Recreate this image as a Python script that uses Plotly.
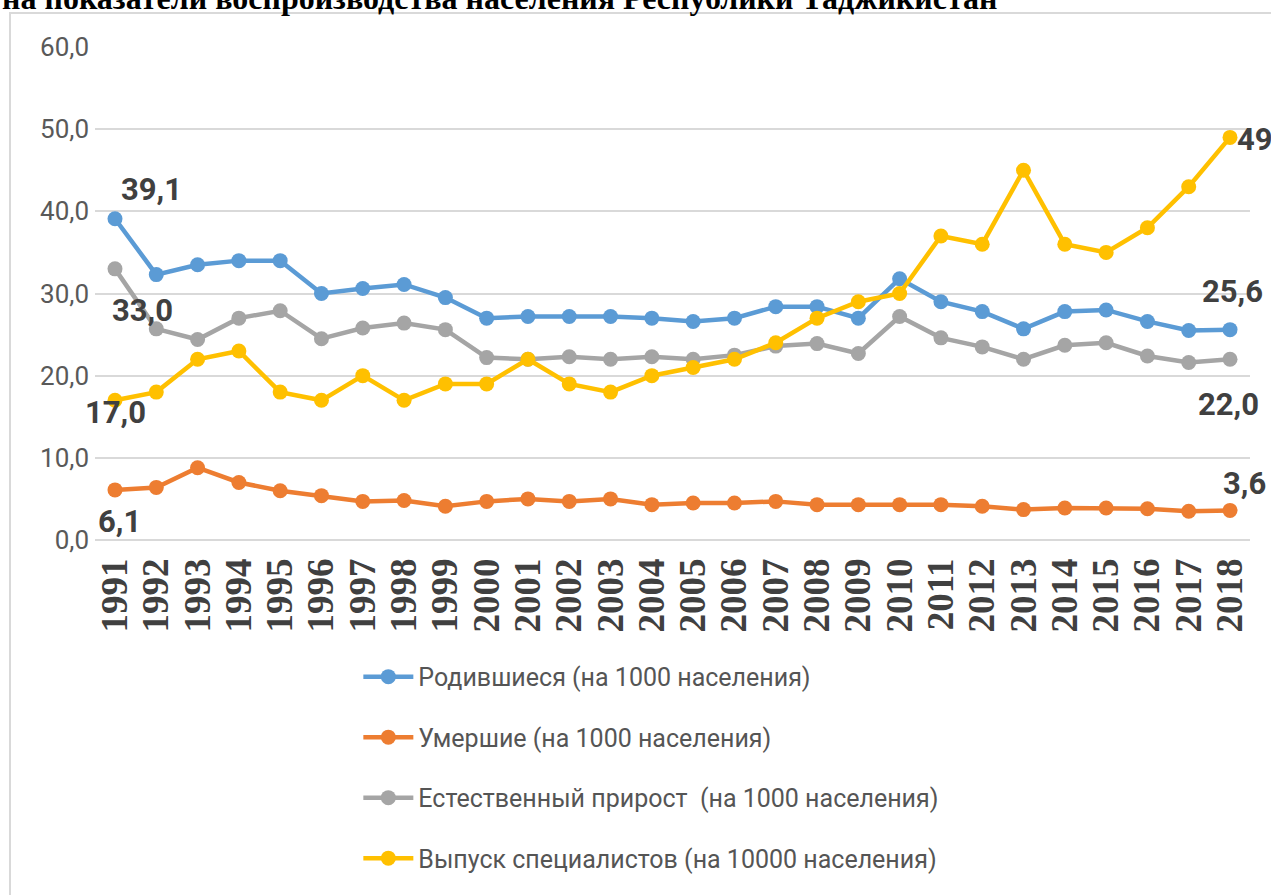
import plotly.graph_objects as go

years = list(range(1991, 2019))
births = [39.1, 32.3, 33.5, 34.0, 34.0, 30.0, 30.6, 31.1, 29.5, 27.0, 27.2, 27.2, 27.2, 27.0,
          26.6, 27.0, 28.4, 28.4, 27.0, 31.8, 29.0, 27.8, 25.7, 27.8, 28.0, 26.6, 25.5, 25.6]
deaths = [6.1, 6.4, 8.8, 7.0, 6.0, 5.4, 4.7, 4.8, 4.1, 4.7, 5.0, 4.7, 5.0, 4.3,
          4.5, 4.5, 4.7, 4.3, 4.3, 4.3, 4.3, 4.1, 3.7, 3.9, 3.9, 3.8, 3.5, 3.6]
growth = [33.0, 25.7, 24.4, 27.0, 27.9, 24.5, 25.8, 26.4, 25.6, 22.2, 22.0, 22.3, 22.0, 22.3,
          22.0, 22.5, 23.6, 23.9, 22.7, 27.2, 24.6, 23.5, 22.0, 23.7, 24.0, 22.4, 21.6, 22.0]
graduates = [17, 18, 22, 23, 18, 17, 20, 17, 19, 19, 22, 19, 18, 20,
             21, 22, 24, 27, 29, 30, 37, 36, 45, 36, 35, 38, 43, 49]

names = ["Родившиеся (на 1000 населения)",
         "Умершие (на 1000 населения)",
         "Естественный прирост  (на 1000 населения)",
         "Выпуск специалистов (на 10000 населения)"]
colors = ["#5B9BD5", "#ED7D31", "#A5A5A5", "#FFC000"]
series = [births, deaths, growth, graduates]

title_text = "на показатели воспроизводства населения Республики Таджикистан"

SANS = "Roboto, Open Sans, sans-serif"

fig = go.Figure()
for i, (nm, col, vals) in enumerate(zip(names, colors, series)):
    fig.add_trace(go.Scatter(
        x=years, y=vals, name=nm, mode="lines+markers",
        line=dict(color=col, width=4.5),
        marker=dict(color=col, size=15),
        legendgroup=str(i),
    ))

def fmt(v):
    return f"{v:.1f}".replace(".", ",")

# data labels: (series, index, xshift, yshift, text)
labels = [
    (births, 0, 37, 29, fmt(births[0])),
    (growth, 0, 28, -42, fmt(growth[0])),
    (graduates, 0, 1, -12, fmt(graduates[0])),
    (deaths, 0, 5, -32, fmt(deaths[0])),
    (graduates, -1, 25, -2, str(graduates[-1])),
    (births, -1, 2, 38, fmt(births[-1])),
    (growth, -1, -2, -45, fmt(growth[-1])),
    (deaths, -1, 14, 27, fmt(deaths[-1])),
]
for s, idx, dx, dy, txt in labels:
    fig.add_annotation(x=years[idx], y=s[idx], text=txt, showarrow=False,
                       xshift=dx, yshift=dy,
                       font=dict(family=SANS, size=31, color="#404040", weight="bold"))

# clipped title from the document above the chart
fig.add_annotation(xref="paper", yref="paper", x=-0.0823, y=1.059, xanchor="left", yanchor="bottom",
                   text="<b>" + title_text + "</b>", showarrow=False,
                   font=dict(family="Liberation Serif, serif", size=32, color="#000000"))

# chart frame (right and bottom edges fall outside the picture)
fig.add_shape(type="rect", xref="paper", yref="paper",
              x0=-0.0736, x1=1.2, y0=-1.2, y1=1.069,
              line=dict(color="#D9D9D9", width=2), layer="below")

fig.update_layout(
    width=1271, height=895,
    margin=dict(l=95, r=21, t=47, b=355, autoexpand=False),
    paper_bgcolor="white", plot_bgcolor="white",
    separators=", ",
    showlegend=True,
    legend=dict(x=0.228, y=-0.231, xanchor="left", yanchor="top",
                orientation="v", tracegroupgap=25, itemwidth=50,
                font=dict(family=SANS, size=25, color="#555555"),
                bgcolor="rgba(0,0,0,0)"),
    xaxis=dict(range=[1990.516, 2018.484], tickvals=years, ticktext=[str(y) for y in years],
               tickangle=-90, showgrid=False, zeroline=False, showline=False,
               ticks="", ticklabelstandoff=10, automargin=False,
               tickfont=dict(family="Liberation Serif, serif", size=37,
                             color="#404040", weight="bold")),
    yaxis=dict(range=[0, 60], dtick=10, tickformat=".1f", showgrid=True,
               gridcolor="#D9D9D9", gridwidth=1.5, zeroline=True, zerolinecolor="#D9D9D9",
               zerolinewidth=1.5, showline=False, ticks="", ticklabelstandoff=5, automargin=False,
               tickfont=dict(family=SANS, size=26, color="#595959")),
)

fig.write_html("out.html", config={"displayModeBar": False},
               post_script="document.body.style.margin='0';document.body.style.overflow='hidden';")
